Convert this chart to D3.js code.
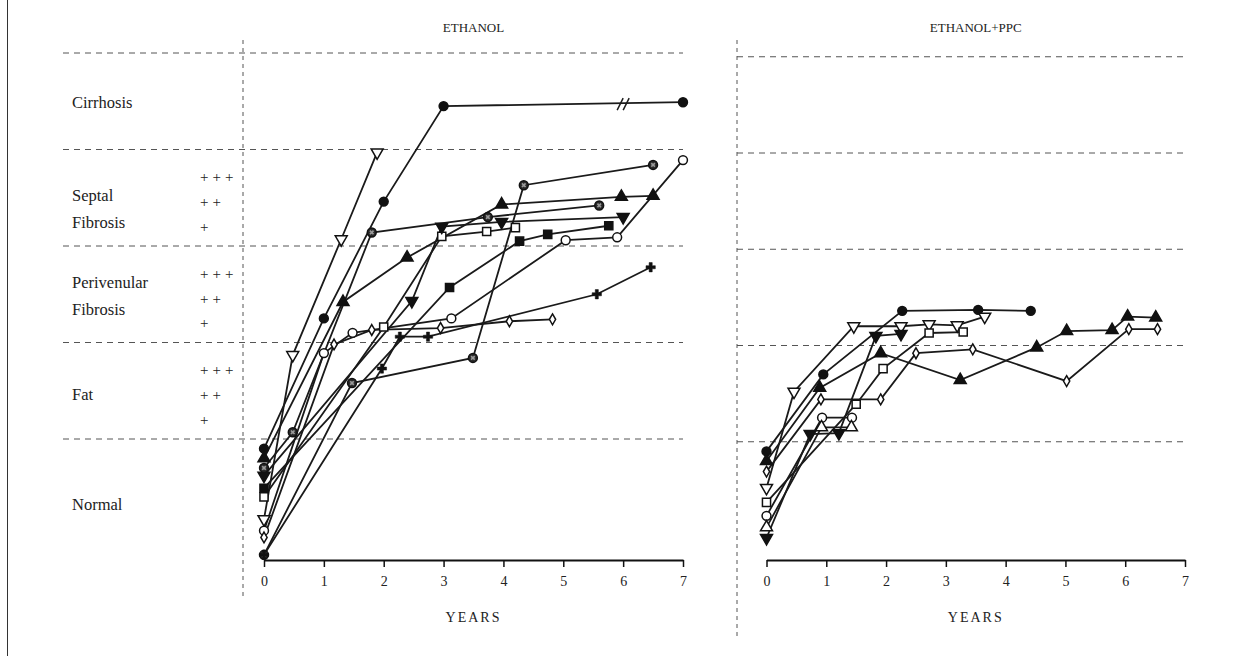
<!DOCTYPE html>
<html>
<head>
<meta charset="utf-8">
<script src="https://cdn.jsdelivr.net/npm/d3@7"></script>
<style>
  body { margin: 0; background: #fff; }
  text { font-family: "Liberation Serif", "Times New Roman", serif; fill: #222; }
</style>
</head>
<body>
<div id="chart"></div>
<script>
// Liver histology over time - ETHANOL vs ETHANOL+PPC

const width = 1244,
    height = 656;

// histological stages (bands, bottom to top) and grade marks
const stageNames = ["Normal", "Fat", "Perivenular Fibrosis", "Septal Fibrosis", "Cirrhosis"];
const gradeLabels = ["+", "++", "+++"];
const yearTicks = [0, 1, 2, 3, 4, 5, 6, 7];
const panelTitles = ["ETHANOL", "ETHANOL+PPC"];

// ETHANOL group, one animal per pair of arrays (years, stage score)
const ethCircleYears = [0, 1, 2, 3, 7];
const ethCircleStage = [0.90, 2.25, 3.46, 4.45, 4.49];
const ethOpenDownYears = [0, 0.48, 1.29, 1.89];
const ethOpenDownStage = [0.17, 1.87, 3.07, 3.97];
const ethTriYears = [0, 1.32, 2.39, 3.97, 5.97, 6.5];
const ethTriStage = [0.80, 2.42, 2.88, 3.43, 3.51, 3.52];
const ethOpenCircleYears = [0, 1.0, 1.48, 3.13, 5.04, 5.9, 7.0];
const ethOpenCircleStage = [0.05, 1.89, 2.10, 2.25, 3.06, 3.09, 3.89];
const ethOpenSquareYears = [0, 2.0, 2.97, 3.72, 4.2];
const ethOpenSquareStage = [0.40, 2.16, 3.10, 3.15, 3.19];
const ethSquareYears = [0, 3.1, 4.27, 4.74, 5.76];
const ethSquareStage = [0.49, 2.57, 3.05, 3.12, 3.21];
const ethDownYears = [0, 2.47, 2.97, 3.97, 6.0];
const ethDownStage = [0.62, 2.43, 3.20, 3.25, 3.30];
const ethDotAYears = [0, 0.48, 1.8, 3.74, 5.6];
const ethDotAStage = [0.70, 1.07, 3.14, 3.30, 3.42];
const ethDotBYears = [0, 1.47, 3.49, 4.34, 6.5];
const ethDotBStage = [-0.20, 1.58, 1.84, 3.63, 3.84];
const ethCrossYears = [0, 1.97, 2.27, 2.74, 5.56, 6.46];
const ethCrossStage = [-0.20, 1.73, 2.06, 2.06, 2.50, 2.78];
const ethDiamondYears = [0, 1.17, 1.8, 2.95, 4.1, 4.82];
const ethDiamondStage = [-0.02, 1.98, 2.13, 2.15, 2.22, 2.24];

// ETHANOL+PPC group
const ppcCircleYears = [0, 0.95, 2.27, 3.54, 4.42];
const ppcCircleStage = [0.90, 1.70, 2.36, 2.37, 2.36];
const ppcOpenDownYears = [0, 0.46, 1.46, 2.25, 2.72, 3.19, 3.65];
const ppcOpenDownStage = [0.52, 1.52, 2.20, 2.20, 2.22, 2.21, 2.30];
const ppcDownYears = [0, 0.73, 1.21, 1.83, 2.25];
const ppcDownStage = [0, 1.08, 1.09, 2.10, 2.12];
const ppcTriYears = [0, 0.89, 1.91, 3.24, 4.52, 5.02, 5.78, 6.04, 6.51];
const ppcTriStage = [0.80, 1.56, 1.92, 1.64, 1.98, 2.15, 2.16, 2.30, 2.29];
const ppcDiamondYears = [0, 0.91, 1.91, 2.5, 3.45, 5.02, 6.06, 6.54];
const ppcDiamondStage = [0.69, 1.44, 1.44, 1.92, 1.96, 1.63, 2.17, 2.17];
const ppcOpenSquareYears = [0, 1.5, 1.95, 2.72, 3.29];
const ppcOpenSquareStage = [0.37, 1.39, 1.76, 2.13, 2.14];
const ppcOpenCircleYears = [0, 0.93, 1.43];
const ppcOpenCircleStage = [0.23, 1.25, 1.25];
const ppcOpenTriYears = [0, 0.92, 1.42];
const ppcOpenTriStage = [0.11, 1.15, 1.15];

const zip = (xs, ys) => xs.map((x, i) => [x, ys[i]]);

const ethSeries = [
  {pts: zip(ethCircleYears, ethCircleStage), mark: "circle", filled: true, brk: 6},
  {pts: zip(ethOpenDownYears, ethOpenDownStage), mark: "down", filled: false},
  {pts: zip(ethTriYears, ethTriStage), mark: "up", filled: true},
  {pts: zip(ethOpenCircleYears, ethOpenCircleStage), mark: "circle", filled: false},
  {pts: zip(ethOpenSquareYears, ethOpenSquareStage), mark: "square", filled: false},
  {pts: zip(ethSquareYears, ethSquareStage), mark: "square", filled: true},
  {pts: zip(ethDownYears, ethDownStage), mark: "down", filled: true},
  {pts: zip(ethDotAYears, ethDotAStage), mark: "dot", filled: true},
  {pts: zip(ethDotBYears, ethDotBStage), mark: "dot", filled: true},
  {pts: zip(ethCrossYears, ethCrossStage), mark: "cross", filled: true},
  {pts: zip(ethDiamondYears, ethDiamondStage), mark: "diamond", filled: false}
];

const ppcSeries = [
  {pts: zip(ppcCircleYears, ppcCircleStage), mark: "circle", filled: true},
  {pts: zip(ppcOpenDownYears, ppcOpenDownStage), mark: "down", filled: false},
  {pts: zip(ppcDownYears, ppcDownStage), mark: "down", filled: true},
  {pts: zip(ppcTriYears, ppcTriStage), mark: "up", filled: true},
  {pts: zip(ppcDiamondYears, ppcDiamondStage), mark: "diamond", filled: false},
  {pts: zip(ppcOpenSquareYears, ppcOpenSquareStage), mark: "square", filled: false},
  {pts: zip(ppcOpenCircleYears, ppcOpenCircleStage), mark: "circle", filled: false},
  {pts: zip(ppcOpenTriYears, ppcOpenTriStage), mark: "up", filled: false}
];

const svg = d3.select("#chart")
  .append("svg")
    .attr("width", width)
    .attr("height", height);

// frame line on the left edge
svg.append("line")
  .attr("x1", 7.5).attr("x2", 7.5)
  .attr("y1", 0).attr("y2", height)
  .attr("stroke", "#333").attr("stroke-width", 1);

// panel geometry
const panels = [
  {title: panelTitles[0], series: ethSeries,
   x: d3.scaleLinear().domain([0, 7]).range([264, 683]),
   y: d3.scaleLinear().domain([0, 5]).range([535.5, 53]),
   gridX: [63, 683], vline: 243, vEnd: 600},
  {title: panelTitles[1], series: ppcSeries,
   x: d3.scaleLinear().domain([0, 7]).range([766.5, 1185]),
   y: d3.scaleLinear().domain([0, 5]).range([538, 56.75]),
   gridX: [737, 1183], vline: 737, vEnd: 640}
];

const symbols = {
  circle: d3.symbol().type(d3.symbolCircle).size(62),
  dot: d3.symbol().type(d3.symbolCircle).size(62),
  square: d3.symbol().type(d3.symbolSquare).size(66),
  up: d3.symbol().type(d3.symbolTriangle).size(62),
  down: d3.symbol().type(d3.symbolTriangle).size(62),
  diamond: d3.symbol().type(d3.symbolDiamond).size(34),
  cross: d3.symbol().type(d3.symbolCross).size(48)
};

const line = d3.line();

panels.forEach(p => {
  const g = svg.append("g");

  // stage boundaries
  g.selectAll(".band")
    .data(d3.range(1, 6))
    .join("line")
      .attr("x1", p.gridX[0]).attr("x2", p.gridX[1])
      .attr("y1", d => p.y(d)).attr("y2", d => p.y(d))
      .attr("stroke", "#555")
      .attr("stroke-width", 1)
      .attr("stroke-dasharray", "6,5");

  // vertical dashed separator
  g.append("line")
    .attr("x1", p.vline).attr("x2", p.vline)
    .attr("y1", 40).attr("y2", p.vEnd)
    .attr("stroke", "#555")
    .attr("stroke-width", 1)
    .attr("stroke-dasharray", "4,4");

  // title
  g.append("text")
    .attr("x", (p.x.range()[0] + p.x.range()[1]) / 2)
    .attr("y", 32)
    .attr("text-anchor", "middle")
    .style("font-size", "13px")
    .text(p.title);

  // x axis
  const axis = g.append("g")
    .attr("transform", "translate(0,560)")
    .call(d3.axisBottom(p.x).tickValues(yearTicks).tickSize(7).tickSizeOuter(0).tickFormat(d3.format("d")));
  axis.select(".domain").attr("stroke", "#111").attr("stroke-width", 2);
  axis.selectAll(".tick line").attr("stroke", "#111").attr("stroke-width", 1.5);
  axis.selectAll(".tick text")
    .attr("y", 16)
    .style("font-family", "'Liberation Serif', serif")
    .style("font-size", "14px")
    .attr("fill", "#222");

  g.append("text")
    .attr("x", (p.x.range()[0] + p.x.range()[1]) / 2)
    .attr("y", 622)
    .attr("text-anchor", "middle")
    .style("font-size", "14px")
    .style("letter-spacing", "2px")
    .text("YEARS");

  // lines
  p.series.forEach(s => {
    g.append("path")
      .attr("d", line(s.pts.map(d => [p.x(d[0]), p.y(d[1])])))
      .attr("fill", "none")
      .attr("stroke", "#1a1a1a")
      .attr("stroke-width", 1.8);

    if (s.brk) {
      const bx = p.x(s.brk), by = p.y(d3.mean(s.pts.slice(-2), d => d[1]));
      [-3, 3].forEach(o => {
        g.append("line")
          .attr("x1", bx + o - 3).attr("y1", by + 6)
          .attr("x2", bx + o + 3).attr("y2", by - 6)
          .attr("stroke", "#1a1a1a").attr("stroke-width", 1.5);
      });
    }
  });

  // markers on top
  p.series.forEach(s => {
    g.selectAll(null)
      .data(s.pts)
      .join("path")
        .attr("d", symbols[s.mark])
        .attr("transform", d => `translate(${p.x(d[0])},${p.y(d[1])})` + (s.mark === "down" ? " rotate(180)" : ""))
        .attr("fill", s.filled ? (s.mark === "dot" ? "#2a2a2a" : "#111") : "#fff")
        .attr("stroke", "#111")
        .attr("stroke-width", s.mark === "cross" ? 0.5 : 1.5);

    if (s.mark === "dot") {
      g.selectAll(null)
        .data(s.pts)
        .join("path")
          .attr("d", d3.symbol().type(d3.symbolCross).size(14))
          .attr("transform", d => `translate(${p.x(d[0])},${p.y(d[1])}) rotate(45)`)
          .attr("fill", "#999");
    }
  });
});

// stage labels on the left
const yL = panels[0].y;
const stageLabelPos = [[0.32], [1.46], [2.62, 2.34], [3.52, 3.24], [4.48]];
stageNames.forEach((name, i) => {
  const words = i === 2 || i === 3 ? name.split(" ") : [name];
  words.forEach((w, j) => {
    svg.append("text")
      .attr("x", 72)
      .attr("y", yL(stageLabelPos[i][j]) + 5)
      .style("font-size", "16.5px")
      .text(w);
  });
});

// grade marks for Fat, Perivenular and Septal bands
[1, 2, 3].forEach(band => {
  gradeLabels.forEach((gl, k) => {
    svg.append("text")
      .attr("x", 200)
      .attr("y", yL(band + 0.2 + k * 0.255) + 5)
      .style("font-size", "15px")
      .style("letter-spacing", "4px")
      .text(gl);
  });
});
</script>
</body>
</html>
